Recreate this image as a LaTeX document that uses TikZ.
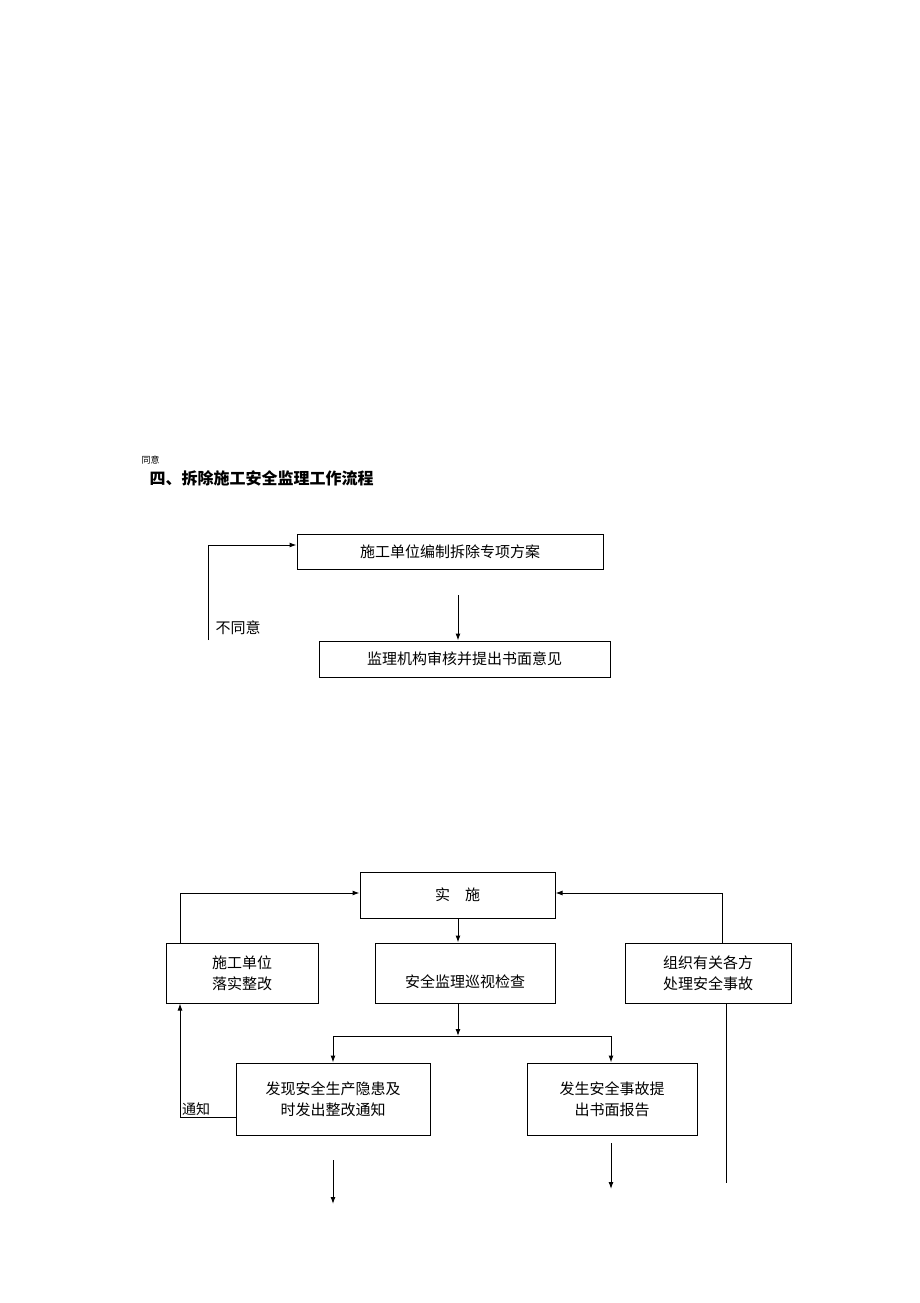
\documentclass[tikz,border=0pt]{standalone}
\usepackage{fontspec}
\setmainfont{Noto Sans CJK SC}
\newfontfamily\cjk{Noto Sans CJK SC}
\usetikzlibrary{arrows.meta}
\begin{document}
\begin{tikzpicture}[x=1pt,y=-1pt,
  box/.style={draw,line width=1pt,inner sep=0pt,font=\fontsize{15}{21}\selectfont\cjk,align=center},
  arr/.style={-{Latex[length=7pt,width=5pt]},line width=1pt},
  ln/.style={line width=1pt}]
\useasboundingbox (0,0) rectangle (920,1303);
\node[anchor=west,font=\fontsize{9}{10}\selectfont] (ty) at (138,460) {同意};
\node[anchor=west,font=\fontsize{16}{18}\selectfont\bfseries] (title) at (146,478) {四、拆除施工安全监理工作流程};
\node[box,minimum width=306pt,minimum height=35pt] (a) at (450,551.5) {施工单位编制拆除专项方案};
\node[box,minimum width=291pt,minimum height=36pt] (b) at (464.5,659) {监理机构审核并提出书面意见};
\coordinate (a1) at (458,595);
\draw[arr] (a1) -- (a1 |- b.north);
\coordinate (l0) at (208,640);
\coordinate (l1) at (208,545);
\draw[arr] (l0) -- (l1) -- (l1 -| a.west);
\node[anchor=west,font=\fontsize{15}{16}\selectfont] (bty) at (212,628) {不同意};

\node[box,minimum width=195pt,minimum height=46pt] (s) at (457.5,895) {实\hspace{1em}施};
\node[box,minimum width=152pt,minimum height=60pt] (c) at (242,973) {施工单位\\落实整改};
\node[box,minimum width=180pt,minimum height=60pt,text height=30pt] (x) at (465,973) {安全监理巡视检查};
\node[box,minimum width=166pt,minimum height=60pt] (z) at (708,973) {组织有关各方\\处理安全事故};
\node[box,minimum width=194pt,minimum height=72pt] (f) at (333,1099) {发现安全生产隐患及\\时发出整改通知};
\node[box,minimum width=170pt,minimum height=72pt] (g) at (612,1099) {发生安全事故提\\出书面报告};
\coordinate (sx) at (458,918);
\draw[arr] (sx) -- (sx |- x.north);
\coordinate (c1) at (180,943);
\coordinate (c2) at (180,893);
\draw[arr] (c1) -- (c2) -- (c2 -| s.west);
\coordinate (z1) at (722,943);
\coordinate (z2) at (722,893);
\draw[arr] (z1) -- (z2) -- (z2 -| s.east);
\coordinate (z3) at (726,1003);
\coordinate (z4) at (726,1183);
\draw[ln] (z3) -- (z4);
\coordinate (x1) at (458,1003);
\coordinate (x2) at (458,1036);
\draw[arr] (x1) -- (x2);
\coordinate (bl) at (333,1036);
\coordinate (br) at (611,1036);
\draw[ln] (bl) -- (br);
\draw[arr] (bl) -- (bl |- f.north);
\draw[arr] (br) -- (br |- g.north);
\coordinate (n1) at (236,1117);
\coordinate (n2) at (180,1117);
\draw[arr] (n1) -- (n2) -- (n2 |- c.south);
\node[anchor=south west,inner sep=1pt,font=\fontsize{14}{15}\selectfont] (tz) at (181,1117) {通知};
\coordinate (d1) at (333,1160);
\coordinate (d2) at (333,1204);
\draw[arr] (d1) -- (d2);
\coordinate (e1) at (611,1143);
\coordinate (e2) at (611,1189);
\draw[arr] (e1) -- (e2);
\end{tikzpicture}
\end{document}
